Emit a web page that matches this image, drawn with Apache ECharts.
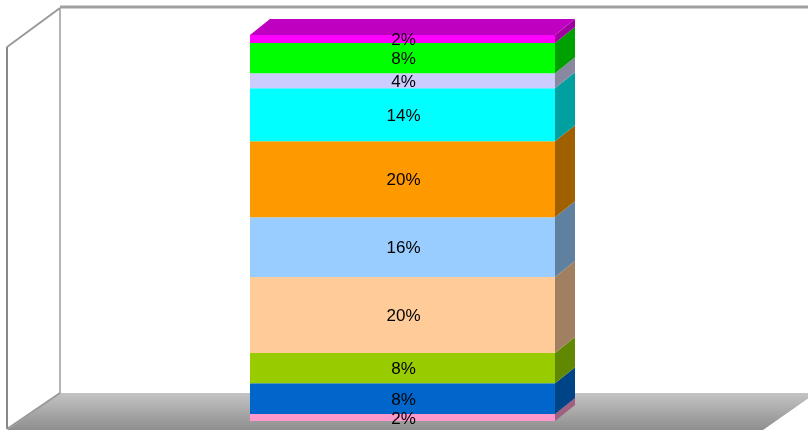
<!DOCTYPE html>
<html><head><meta charset="utf-8">
<script src="https://cdn.jsdelivr.net/npm/echarts@6/dist/echarts.min.js"></script>
<style>html,body{margin:0;padding:0;background:#fff}#c{width:808px;height:432px}</style>
</head><body><div id="c"></div>
<script>
// bottom to top
const categories = [''];
const segmentNames = ['S1','S2','S3','S4','S5','S6','S7','S8','S9','S10'];
const segmentValues = [1.8, 8.0, 7.8, 19.7, 15.5, 19.7, 13.7, 3.9, 7.8, 2.1];
const segmentLabels = ['2%','8%','8%','20%','16%','20%','14%','4%','8%','2%'];
const frontColors = ['#FF99CC','#0066CC','#99CC00','#FFCC99','#99CCFF','#FF9900','#00FFFF','#CCCCFF','#00FF00','#FF00FF'];
const sideColors  = ['#A06080','#004488','#608800','#A08060','#6080A0','#A06000','#00A0A0','#8888A0','#00A000','#A000A0'];
const topColor = '#C000C0';

const chart = echarts.init(document.getElementById('c'), null, {renderer:'canvas'});
const data = [];
let acc = 0;
segmentValues.forEach((v,i)=>{ data.push([0, acc, acc+v, i]); acc += v; });
const total = acc;
const DX = 20, DY = 16;

function renderItem(params, api){
  const start = api.value(1), end = api.value(2), idx = api.value(3);
  const pB = api.coord([0, start]);
  const pT = api.coord([0, end]);
  const w = api.size([1, 0])[0];
  const xl = pB[0] - w/2, xr = pB[0] + w/2;
  const yb = pB[1], yt = pT[1];
  const children = [
    {type:'rect', shape:{x:xl, y:yt, width:w, height:yb-yt}, style:{fill:frontColors[idx]}},
    {type:'polygon', shape:{points:[[xr,yt],[xr+DX,yt-DY],[xr+DX,yb-DY],[xr,yb]]}, style:{fill:sideColors[idx]}},
    {type:'text', style:{text:segmentLabels[idx], x:(xl+xr)/2 + 1, y:(yt+yb)/2 + 1.5, align:'center', verticalAlign:'middle', font:'17px Arial, "Liberation Sans", sans-serif', fill:'#000'}, z2:10}
  ];
  if (idx === segmentValues.length-1) {
    children.push({type:'polygon', shape:{points:[[xl,yt],[xl+DX,yt-DY],[xr+DX,yt-DY],[xr,yt]]}, style:{fill:topColor}});
  }
  return {type:'group', children};
}

chart.setOption({
  animation:false,
  grid:{left:250, right:253, top:35, bottom:11},
  xAxis:{type:'category', data:categories, show:false, boundaryGap:true},
  yAxis:{type:'value', min:0, max:total, show:false},
  graphic:[
    {type:'polygon', z:0, shape:{points:[[60,393],[816,393],[763,430],[7,430]]},
      style:{fill:new echarts.graphic.LinearGradient(0,0,0,1,[{offset:0,color:'#C4C4C4'},{offset:1,color:'#8E8E8E'}])}},
    {type:'line', z:1, shape:{x1:60,y1:7,x2:808,y2:7}, style:{stroke:'#A0A0A0', lineWidth:3}},
    {type:'line', z:1, shape:{x1:60,y1:8,x2:60,y2:393}, style:{stroke:'#B4B4B4', lineWidth:2}},
    {type:'line', z:1, shape:{x1:7,y1:47,x2:7,y2:429}, style:{stroke:'#888888', lineWidth:2}},
    {type:'line', z:1, shape:{x1:7,y1:47,x2:60,y2:8}, style:{stroke:'#999999', lineWidth:2}},
    {type:'line', z:1, shape:{x1:7,y1:429,x2:60,y2:393}, style:{stroke:'#999999', lineWidth:2}}
  ],
  series:[{type:'custom', z:5, renderItem, data, encode:{x:0, y:[1,2]}}]
});
</script></body></html>
